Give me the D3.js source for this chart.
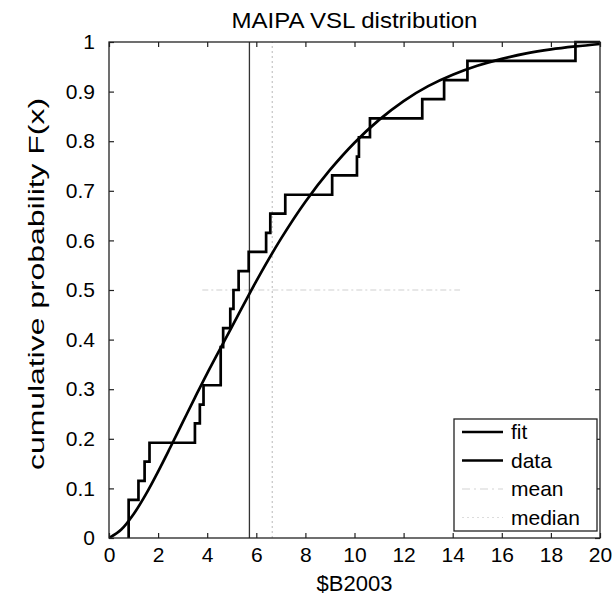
<!DOCTYPE html>
<html lang="en">
<head>
    <meta charset="UTF-8">
    <title>MAIPA VSL distribution</title>
    <script src="https://d3js.org/d3.v7.min.js"></script>
    <style>
        body {
            margin: 0;
            background: #fff;
            font-family: 'Liberation Sans', Arial, Helvetica, sans-serif;
        }

        svg {
            display: block;
        }

        .tick text {
            font-size: 21px;
            fill: #000;
            font-family: 'Liberation Sans', Arial, sans-serif;
        }

        .tick line {
            stroke: #222;
            stroke-width: 1.2;
        }

        .legend text {
            font-size: 21px;
            fill: #000;
        }
    </style>
</head>
<body>
    <svg></svg>

    <script>
        // Chart dimensions
        const width = 616;
        const height = 603;
        const margin = { top: 42, right: 16, bottom: 65, left: 109 };

        const svg = d3.select("svg")
            .attr("width", width)
            .attr("height", height);

        const stepX = [0.8, 1.2, 1.45, 1.65, 3.5, 3.7, 3.85, 4.55, 4.65, 4.94, 5.07, 5.28,
                       5.69, 6.4, 6.57, 7.18, 9.09, 10.1, 10.18, 10.63, 12.76, 13.65, 14.6, 19.0];
        const stepF = [0.077, 0.115, 0.154, 0.192, 0.231, 0.269, 0.308, 0.385, 0.423, 0.462, 0.5, 0.538,
                       0.577, 0.615, 0.654, 0.692, 0.731, 0.769, 0.808, 0.846, 0.885, 0.923, 0.962, 1.0];

        // Fitted distribution curve
        const fitX = [0, 0.5, 1, 1.5, 2, 2.5, 3, 3.5, 4, 5, 6, 7, 8, 9, 10,
                      11, 12, 13, 14, 15, 16, 17, 18, 19, 20];
        const fitF = [0, 0.017, 0.048, 0.088, 0.134, 0.183, 0.233, 0.283, 0.332, 0.425, 0.518, 0.603, 0.678, 0.742, 0.797,
                      0.843, 0.881, 0.911, 0.934, 0.952, 0.966, 0.977, 0.985, 0.991, 0.996];

        // Reference lines
        const meanX = 6.65;
        const medianX = 5.72;
        const halfLineX = [3.8, 14.3];
        const halfLineF = 0.5;

        // Ticks
        const xTicks = [0, 2, 4, 6, 8, 10, 12, 14, 16, 18, 20];
        const yTicks = [0, 0.1, 0.2, 0.3, 0.4, 0.5, 0.6, 0.7, 0.8, 0.9, 1];
        const yTickLabels = ["0", "0.1", "0.2", "0.3", "0.4", "0.5", "0.6", "0.7", "0.8", "0.9", "1"];

        const legendNames = ["fit", "data", "mean", "median"];

        // Scales
        const x = d3.scaleLinear().domain([0, 20]).range([margin.left, width - margin.right]);
        const y = d3.scaleLinear().domain([0, 1]).range([height - margin.bottom, margin.top]);

        const plotW = x(20) - x(0);
        const plotH = y(0) - y(1);

        // Clip for data lines
        svg.append("clipPath").attr("id", "plot-clip")
            .append("rect")
            .attr("x", x(0)).attr("y", y(1) - 2)
            .attr("width", plotW).attr("height", plotH + 2);

        // Axes with inward ticks (MATLAB style)
        svg.append("g")
            .attr("transform", `translate(0,${y(0)})`)
            .call(d3.axisBottom(x).tickValues(xTicks).tickSizeInner(-5).tickSizeOuter(0).tickPadding(9))
            .call(g => g.select(".domain").remove());

        svg.append("g")
            .attr("transform", `translate(0,${y(1)})`)
            .call(d3.axisTop(x).tickValues(xTicks).tickSizeInner(-5).tickSizeOuter(0).tickFormat(""))
            .call(g => g.select(".domain").remove());

        svg.append("g")
            .attr("transform", `translate(${x(0)},0)`)
            .call(d3.axisLeft(y).tickValues(yTicks).tickSizeInner(-5).tickSizeOuter(0).tickPadding(14)
                .tickFormat((d, i) => yTickLabels[i]))
            .call(g => g.select(".domain").remove());

        svg.append("g")
            .attr("transform", `translate(${x(20)},0)`)
            .call(d3.axisRight(y).tickValues(yTicks).tickSizeInner(-5).tickSizeOuter(0).tickFormat(""))
            .call(g => g.select(".domain").remove());

        // Reference lines
        svg.append("line")
            .attr("x1", x(meanX)).attr("x2", x(meanX))
            .attr("y1", y(0)).attr("y2", y(1))
            .attr("stroke", "#c4c4c4")
            .attr("stroke-width", 1.2)
            .attr("stroke-dasharray", "2,3");

        svg.append("line")
            .attr("x1", x(halfLineX[0])).attr("x2", x(halfLineX[1]))
            .attr("y1", y(halfLineF)).attr("y2", y(halfLineF))
            .attr("stroke", "#d0d0d0")
            .attr("stroke-width", 1.2)
            .attr("stroke-dasharray", "6,3,2,3");

        svg.append("line")
            .attr("x1", x(medianX)).attr("x2", x(medianX))
            .attr("y1", y(0)).attr("y2", y(1))
            .attr("stroke", "#333")
            .attr("stroke-width", 1.3);

        // Data step line
        const stepPts = [{ x: stepX[0], f: 0 }]
            .concat(stepX.map((v, i) => ({ x: v, f: stepF[i] })))
            .concat([{ x: 20, f: stepF[stepF.length - 1] }]);

        const stepLine = d3.line()
            .x(d => x(d.x))
            .y(d => y(d.f))
            .curve(d3.curveStepAfter);

        svg.append("path")
            .datum(stepPts)
            .attr("clip-path", "url(#plot-clip)")
            .attr("fill", "none")
            .attr("stroke", "#000")
            .attr("stroke-width", 2.7)
            .attr("d", stepLine);

        // Fit curve
        const fitLine = d3.line()
            .x((d, i) => x(fitX[i]))
            .y(d => y(d))
            .curve(d3.curveCatmullRom.alpha(0.5));

        svg.append("path")
            .datum(fitF)
            .attr("clip-path", "url(#plot-clip)")
            .attr("fill", "none")
            .attr("stroke", "#000")
            .attr("stroke-width", 2.7)
            .attr("d", fitLine);

        // Plot box
        svg.append("rect")
            .attr("x", x(0)).attr("y", y(1))
            .attr("width", plotW).attr("height", plotH)
            .attr("fill", "none")
            .attr("stroke", "#222")
            .attr("stroke-width", 1.3);

        // Legend
        const legend = svg.append("g").attr("class", "legend")
            .attr("transform", "translate(454,419)");

        legend.append("rect")
            .attr("width", 143).attr("height", 112)
            .attr("fill", "#fff")
            .attr("stroke", "#222")
            .attr("stroke-width", 1.3);

        const legendStyle = [
            { color: "#000", width: 2.7, dash: null },
            { color: "#000", width: 2.7, dash: null },
            { color: "#d4d4d4", width: 1.2, dash: "8,4,2,4" },
            { color: "#dcdcdc", width: 1.2, dash: "2,3" }
        ];

        legendNames.forEach((name, i) => {
            const row = legend.append("g").attr("transform", `translate(0,${13 + i * 28.5})`);
            row.append("line")
                .attr("x1", 8).attr("x2", 49)
                .attr("stroke", legendStyle[i].color)
                .attr("stroke-width", legendStyle[i].width)
                .attr("stroke-dasharray", legendStyle[i].dash);
            row.append("text")
                .attr("x", 57).attr("y", 7)
                .text(name);
        });

        // Title and axis labels
        svg.append("text")
            .attr("x", (x(0) + x(20)) / 2)
            .attr("y", 28)
            .attr("text-anchor", "middle")
            .attr("font-size", 22)
            .attr("fill", "#000")
            .attr("textLength", 246)
            .attr("lengthAdjust", "spacingAndGlyphs")
            .text("MAIPA VSL distribution");

        svg.append("text")
            .attr("x", (x(0) + x(20)) / 2)
            .attr("y", 591)
            .attr("text-anchor", "middle")
            .attr("font-size", 22)
            .attr("fill", "#000")
            .text("$B2003");

        svg.append("text")
            .attr("transform", "translate(44,284) rotate(-90)")
            .attr("text-anchor", "middle")
            .attr("font-size", 22)
            .attr("fill", "#000")
            .attr("textLength", 372)
            .attr("lengthAdjust", "spacingAndGlyphs")
            .text("cumulative probability F(x)");
    </script>
</body>
</html>
